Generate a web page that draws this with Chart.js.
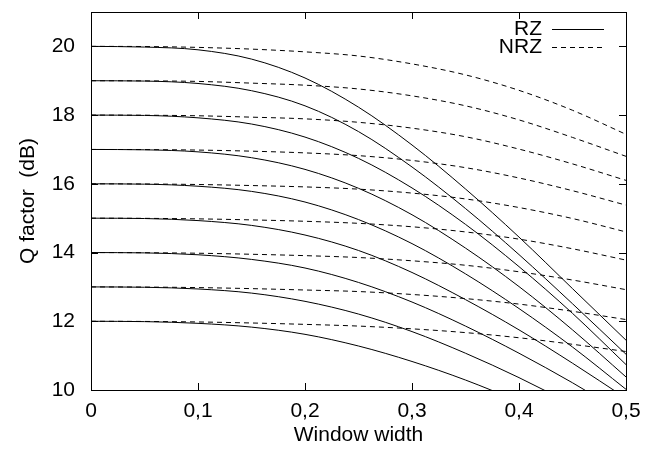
<!DOCTYPE html>
<html><head><meta charset="utf-8">
<script src="https://cdn.jsdelivr.net/npm/chart.js@4.4.0/dist/chart.umd.min.js"></script>
<style>html,body{margin:0;padding:0;background:#fff}#wrap{width:645px;height:452px}</style>
</head><body><div id="wrap"><canvas id="c" width="645" height="452"></canvas></div>
<script>
// ---- data ----
const windowWidth = [0, 0.05, 0.1, 0.15, 0.2, 0.25, 0.3, 0.35, 0.4, 0.45, 0.5];

const rz12 = [12, 11.99, 11.94, 11.83, 11.62, 11.28, 10.83, 10.29, 9.66, 8.98, 8.28];
const rz13 = [13, 12.99, 12.94, 12.82, 12.58, 12.21, 11.70, 11.07, 10.36, 9.57, 8.73];
const rz14 = [14, 13.99, 13.935, 13.80, 13.55, 13.13, 12.56, 11.86, 11.07, 10.21, 9.28];
const rz15 = [15, 14.99, 14.93, 14.79, 14.51, 14.06, 13.42, 12.63, 11.75, 10.78, 9.76];
const rz16 = [16, 15.99, 15.93, 15.78, 15.47, 14.96, 14.26, 13.38, 12.37, 11.25, 10.02];
const rz17 = [17, 16.99, 16.93, 16.76, 16.42, 15.87, 15.10, 14.13, 13.01, 11.75, 10.38];
const rz18 = [18, 17.99, 17.92, 17.74, 17.36, 16.74, 15.88, 14.82, 13.59, 12.23, 10.74];
const rz19 = [19, 18.99, 18.92, 18.71, 18.27, 17.52, 16.49, 15.28, 13.94, 12.51, 11.04];
const rz20 = [20, 19.98, 19.90, 19.63, 19.08, 18.23, 17.13, 15.85, 14.45, 12.95, 11.45];

const nrz12 = [12, 11.995, 11.98, 11.95, 11.91, 11.86, 11.78, 11.67, 11.52, 11.33, 11.12];
const nrz13 = [13, 12.995, 12.98, 12.95, 12.91, 12.865, 12.78, 12.66, 12.50, 12.29, 12.05];
const nrz14 = [14, 13.995, 13.98, 13.95, 13.91, 13.855, 13.76, 13.63, 13.44, 13.20, 12.92];
const nrz15 = [15, 14.995, 14.98, 14.95, 14.91, 14.85, 14.75, 14.60, 14.39, 14.11, 13.78];
const nrz16 = [16, 15.995, 15.98, 15.95, 15.91, 15.845, 15.73, 15.56, 15.31, 14.99, 14.60];
const nrz17 = [17, 16.996, 16.982, 16.95, 16.90, 16.82, 16.68, 16.47, 16.17, 15.80, 15.38];
const nrz18 = [18, 17.996, 17.98, 17.94, 17.89, 17.79, 17.62, 17.37, 17.01, 16.58, 16.10];
const nrz19 = [19, 18.996, 18.98, 18.93, 18.87, 18.76, 18.56, 18.27, 17.86, 17.35, 16.80];
const nrz20 = [20, 19.995, 19.97, 19.92, 19.84, 19.72, 19.49, 19.17, 18.72, 18.14, 17.44];

const xTickLabels = ['0', '0,1', '0,2', '0,3', '0,4', '0,5'];
const xTickValues = [0, 0.1, 0.2, 0.3, 0.4, 0.5];
const yTickValues = [10, 12, 14, 16, 18, 20];
const xTitle = 'Window width';
const yTitle = 'Q factor  (dB)';
const legendLabels = ['RZ', 'NRZ'];

// ---- build chart ----
const FONT = '"Liberation Sans", Arial, sans-serif';
const rzSeries = [rz12, rz13, rz14, rz15, rz16, rz17, rz18, rz19, rz20];
const nrzSeries = [nrz12, nrz13, nrz14, nrz15, nrz16, nrz17, nrz18, nrz19, nrz20];
const toPts = arr => windowWidth.map((x, i) => ({x: x, y: arr[i]}));
const datasets = [];
nrzSeries.forEach((s, i) => datasets.push({
  label: 'NRZ ' + (12 + i), data: toPts(s), borderColor: '#000', borderWidth: 1,
  borderDash: [5, 4], pointRadius: 0, fill: false, cubicInterpolationMode: 'monotone'
}));
rzSeries.forEach((s, i) => datasets.push({
  label: 'RZ ' + (12 + i), data: toPts(s), borderColor: '#000', borderWidth: 1,
  pointRadius: 0, fill: false, cubicInterpolationMode: 'monotone'
}));

const framePlugin = {
  id: 'frame',
  afterDraw(chart) {
    const {ctx, chartArea: a, scales} = chart;
    ctx.save();
    ctx.strokeStyle = '#000';
    ctx.lineWidth = 1;
    ctx.setLineDash([]);
    ctx.strokeRect(Math.round(a.left) + 0.5, Math.round(a.top) + 0.5,
                   Math.round(a.right - a.left), Math.round(a.bottom - a.top));
    const tl = 7;
    ctx.beginPath();
    xTickValues.forEach(v => {
      const px = Math.round(scales.x.getPixelForValue(v)) + 0.5;
      ctx.moveTo(px, a.bottom); ctx.lineTo(px, a.bottom - tl);
      ctx.moveTo(px, a.top); ctx.lineTo(px, a.top + tl);
    });
    yTickValues.forEach(v => {
      const py = Math.round(scales.y.getPixelForValue(v)) + 0.5;
      ctx.moveTo(a.left, py); ctx.lineTo(a.left + tl, py);
      ctx.moveTo(a.right, py); ctx.lineTo(a.right - tl, py);
    });
    ctx.stroke();
    // legend
    ctx.font = '21px ' + FONT;
    ctx.fillStyle = '#000';
    ctx.textAlign = 'right';
    ctx.textBaseline = 'middle';
    const tx = a.right - 84, lx0 = a.right - 74, lx1 = a.right - 22;
    const rows = [a.top + 17, a.top + 35];
    legendLabels.forEach((lab, i) => {
      ctx.fillText(lab, tx, rows[i]);
      ctx.beginPath();
      ctx.setLineDash(i === 0 ? [] : [5, 4]);
      ctx.moveTo(lx0, Math.round(rows[i]) + 0.5);
      ctx.lineTo(lx1, Math.round(rows[i]) + 0.5);
      ctx.stroke();
    });
    ctx.restore();
  }
};

new Chart(document.getElementById('c'), {
  type: 'line',
  data: {datasets},
  options: {
    responsive: false, animation: false, devicePixelRatio: 1,
    layout: {padding: {left: 0, right: 19, top: 12, bottom: 0}},
    plugins: {legend: {display: false}, tooltip: {enabled: false}},
    scales: {
      x: {
        type: 'linear', min: 0, max: 0.5,
        grid: {display: false, drawTicks: false},
        border: {display: false},
        afterBuildTicks: s => { s.ticks = xTickValues.map(v => ({value: v})); },
        afterFit: s => { s.height = 62; s.paddingLeft = 0; s.paddingRight = 0; },
        ticks: {color: '#000', font: {size: 21, family: FONT}, padding: 9, maxRotation: 0,
                callback: (v) => xTickLabels[Math.round(v * 10)]},
        title: {display: true, text: xTitle, color: '#000', font: {size: 21, family: FONT},
                padding: {top: 0, bottom: 4}}
      },
      y: {
        type: 'linear', min: 10, max: 21,
        grid: {display: false, drawTicks: false},
        border: {display: false},
        afterBuildTicks: s => { s.ticks = yTickValues.map(v => ({value: v})); },
        afterFit: s => { s.width = 91; s.paddingTop = 0; s.paddingBottom = 0; },
        ticks: {color: '#000', font: {size: 21, family: FONT}, padding: 16},
        title: {display: true, text: yTitle, color: '#000', font: {size: 21, family: FONT},
                padding: {top: 16, bottom: 0}}
      }
    }
  },
  plugins: [framePlugin]
});
</script></body></html>
